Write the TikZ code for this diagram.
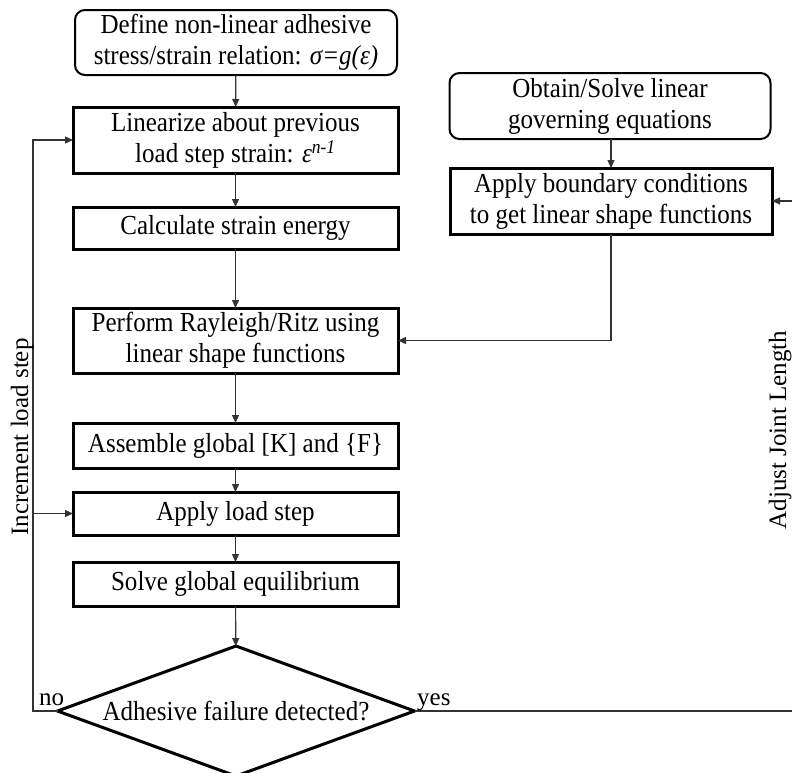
\documentclass[tikz,border=0pt]{standalone}
\usepackage{fontspec}
\setmainfont{Liberation Serif}
\newfontfamily\boxfont{Liberation Serif}[FakeStretch=0.91]
\usetikzlibrary{shapes.geometric,arrows.meta}
\begin{document}
\begin{tikzpicture}[x=1pt,y=-1pt,
  txt/.style={font=\boxfont\fontsize{27.5}{31}\selectfont, align=center, inner sep=0pt, outer sep=0pt},
  roundbox/.style={txt, draw, line width=2pt, rounded corners=10pt},
  stepbox/.style={txt, draw, line width=3pt, minimum width=325pt},
  decbox/.style={txt, draw, line width=3pt, diamond, minimum width=357pt, minimum height=130pt, shape aspect=2.75},
  conn/.style={line width=1.2pt, draw=black!80, -{Triangle[length=8pt,width=7pt]}},
  lbl/.style={font=\fontsize{25}{30}\selectfont, inner sep=0pt}]
\clip (0,0) rectangle (792,772);
\fill[white] (0,0) rectangle (792,772);

\node[roundbox, minimum width=322pt, minimum height=65pt] (b1) at (236,42.5)
  {Define non-linear adhesive\\stress/strain relation: {\itshape σ=g(ε)}};
\node[stepbox, minimum height=66pt] (b2) at (235.5,140)
  {Linearize about previous\\load step strain: {\itshape ε\textsuperscript{n-1}}};
\node[stepbox, minimum height=42pt] (b3) at (235.5,228) {Calculate strain energy};
\node[stepbox, minimum height=65pt] (b4) at (235.5,340.5)
  {Perform Rayleigh/Ritz using\\linear shape functions};
\node[stepbox, minimum height=45pt] (b5) at (235.5,445.5) {Assemble global [K] and \{F\}};
\node[stepbox, minimum height=43pt] (b6) at (235.5,513.5) {Apply load step};
\node[stepbox, minimum height=44pt] (b7) at (235.5,584) {Solve global equilibrium};
\node[decbox] (dia) at (236,711) {Adhesive failure detected?};

\node[roundbox, minimum width=321pt, minimum height=66pt] (r1) at (610,106)
  {Obtain/Solve linear\\governing equations};
\node[roundbox, line width=3pt, rounded corners=0pt, minimum width=322pt, minimum height=66pt] (r2) at (611,201)
  {Apply boundary conditions\\to get linear shape functions};

\draw[conn] (b1) -- (b2);
\draw[conn] (b2) -- (b3);
\draw[conn] (b3) -- (b4);
\draw[conn] (b4) -- (b5);
\draw[conn] (b5) -- (b6);
\draw[conn] (b6) -- (b7);
\draw[conn] (b7) -- (dia);
\draw[conn] (r1.south -| r2.north) -- (r2.north);
\draw[conn] (r2.south) |- (b4.east);

\coordinate (lc) at (33,711);
\draw[conn] (dia.west) -- (lc) |- (b2.west);
\draw[conn] (lc |- b6.west) -- (b6.west);

\coordinate (rc) at (830,711);
\draw[conn] (dia.east) -- (rc) |- (r2.east);

\node[lbl, anchor=base west] (no) at (39,705) {no};
\node[lbl, anchor=base west] (yes) at (417,705) {yes};
\node[lbl, rotate=90, anchor=base] (inc) at (28,437) {Increment load step};
\node[lbl, rotate=90, anchor=base] (adj) at (786,430) {Adjust Joint Length};
\end{tikzpicture}
\end{document}
